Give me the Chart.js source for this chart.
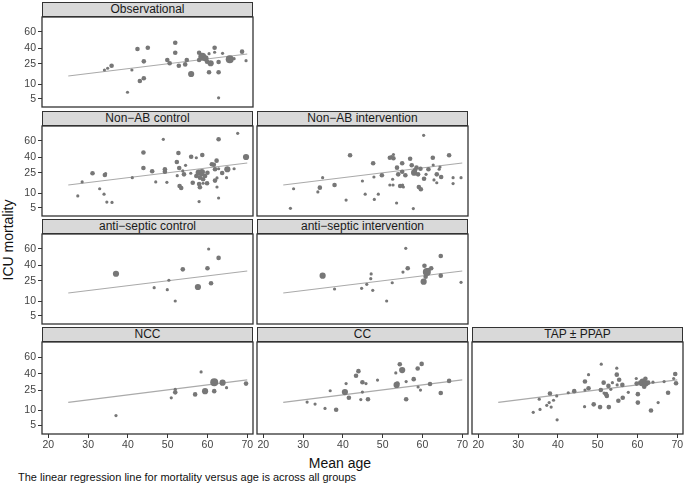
<!DOCTYPE html>
<html>
<head>
<meta charset="utf-8">
<script src="https://cdn.jsdelivr.net/npm/chart.js@4/dist/chart.umd.min.js"></script>
<style>
  body { margin: 0; background: #fff; width: 685px; height: 485px; position: relative; overflow: hidden;
         font-family: "Liberation Sans", Arial, Helvetica, sans-serif; }
  .strip { position: absolute; box-sizing: border-box; height: 15px; width: 211px; background: #d9d9d9;
           border: 1px solid #333; font-size: 12px; line-height: 13px; text-align: center; color: #1a1a1a; }
  .box { position: absolute; }
  #ylab { position: absolute; left: 8px; top: 240px; transform: translate(-50%, -50%) rotate(-90deg);
          font-size: 14px; white-space: nowrap; color: #111; }
  #xlab { position: absolute; left: 340px; top: 463px; transform: translate(-50%, -50%);
          font-size: 14px; line-height: 16px; white-space: nowrap; color: #111; }
  #caption { position: absolute; left: 18px; top: 471px; font-size: 11px; line-height: 13px; color: #111; white-space: nowrap; }
</style>
</head>
<body>
<div id="ylab">ICU mortality</div>
<div id="xlab">Mean age</div>
<div id="caption">The linear regression line for mortality versus age is across all groups</div>
<script>
// axis ticks
const xTicks = [20, 30, 40, 50, 60, 70];
const yTicks = [5, 10, 25, 40, 60];
// where each y tick sits on the (non-linear) mortality axis, 0..90 units
const yTickPos = [8.3, 23, 43, 59, 75];

// regression line across all groups
const lineAge = [25, 70];
const lineMort = [16, 34.4];

// Observational
const obsAge = [34.1,34.9,35.9,39.9,41.0,42.4,43.0,44.0,44.0,45.0,49.9,50.5,51.9,51.9,52.8,54.4,54.8,55.9,57.9,57.9,58.7,59.5,59.9,60.4,60.4,60.8,61.8,61.8,62.8,62.8,62.8,63.8,65.6,66.7,68.7,69.7];
const obsMort = [20.5,21.8,23.7,7.2,20.5,39.1,12.3,14.3,27.5,40.4,28.8,25.7,46.6,35.6,23.7,24.7,28.8,17.5,35.6,28.8,31.8,30.3,27.2,34.7,18.8,25.7,40.4,36.0,26.9,18.8,5.3,35.0,29.4,30.0,36.6,28.1];
const obsSize = [1,1,2,1,1,2,2,2,2,2,2,2,2,2,2,2,2,3,2,2,4,3,2,1,2,3,2,1,2,2,1,1,4,1,2,1];

// Non-AB control
const ncAge = [27.4,28.5,31.1,32.9,34.0,34.2,34.4,34.7,36.0,41.1,43.9,43.9,46.1,47.0,48.9,49.3,49.3,49.8,52.3,52.4,52.7,52.9,53.0,53.4,53.8,54.1,54.5,55.9,55.8,56.3,57.2,57.2,57.8,57.9,57.9,58.1,58.1,58.6,58.6,58.9,59.4,60.0,58.7,58.9,59.9,61.1,61.6,61.9,61.9,62.3,62.4,62.4,62.8,62.8,62.8,63.7,64.8,65.0,66.7,67.6,69.7];
const ncMort = [9.0,18.3,24.8,13.2,9.6,23.5,24.5,6.9,6.8,21.5,45.6,29.7,26.6,18.3,62.1,28.5,26.2,18.0,35.3,23.0,45.0,29.7,15.3,13.8,26.9,24.0,32.2,40.4,24.8,17.7,39.3,22.8,25.3,16.8,7.1,21.5,14.3,25.9,24.0,20.3,22.8,25.3,42.5,17.3,17.3,33.2,32.8,28.5,19.3,36.6,21.3,14.5,62.1,29.0,8.3,25.0,21.5,28.5,29.0,69.6,40.0];
const ncSize = [1,1,2,1,1,2,1,1,1,1,2,2,2,1,1,2,2,1,2,1,2,2,2,2,1,2,1,2,1,2,1,2,3,2,1,2,2,3,2,2,2,2,2,1,2,2,2,2,2,2,1,1,2,1,1,2,1,3,1,1,3];

// Non-AB intervention
const niAge = [26.8,27.6,33.7,34.2,34.9,37.9,40.8,41.8,44.9,45.6,47.6,47.8,47.9,48.9,49.8,51.8,52.2,52.7,52.7,51.8,52.6,52.5,53.5,53.6,53.9,54.4,54.9,55.2,55.7,54.9,55.0,56.9,57.3,57.7,57.9,58.1,58.5,58.9,59.1,59.6,59.5,60.3,60.4,60.9,61.5,62.6,62.7,62.9,63.6,63.6,64.4,64.7,66.7,64.2,67.7,67.7,69.7];
const niMort = [4.8,13.2,10.8,14.0,21.5,16.0,7.6,42.1,19.0,9.6,34.1,22.0,7.8,9.6,23.3,39.3,40.5,43.1,38.8,16.0,16.0,20.3,6.6,30.0,24.0,15.3,26.2,14.5,23.3,34.1,16.0,38.4,32.2,4.7,25.3,27.5,30.0,24.0,14.5,12.8,29.0,67.1,20.7,24.0,28.5,39.3,32.5,19.8,24.0,17.7,30.6,22.0,42.1,28.5,21.5,17.1,21.5];
const niSize = [1,1,1,2,1,2,1,2,1,1,2,1,1,1,2,2,1,1,2,1,1,1,1,2,2,2,2,1,2,2,1,2,2,1,3,2,2,2,2,2,2,1,2,1,2,2,1,1,2,1,1,2,2,1,1,1,1];

// anti-septic control
const acAge = [37.0,46.6,49.9,50.3,51.9,53.8,57.6,60.0,60.3,60.9,62.8];
const acMort = [31.8,20.0,18.5,25.7,10.0,35.9,20.5,36.9,60.0,23.3,48.9];
const acSize = [3,1,1,1,1,2,3,2,1,2,2];

// anti-septic intervention
const aiAge = [34.9,37.9,44.7,46.0,47.0,47.1,47.5,51.0,52.4,55.1,55.8,56.3,60.3,60.5,60.8,61.1,61.5,62.2,64.6,64.6,69.7];
const aiMort = [30.0,19.0,19.5,22.5,27.2,31.6,18.0,10.0,23.7,33.4,60.9,36.9,24.5,39.3,29.0,33.4,35.3,36.9,51.2,30.0,24.0];
const aiSize = [3,1,1,1,1,1,1,1,1,1,1,2,3,2,2,4,2,2,2,2,1];

// NCC
const nccAge = [37.0,50.9,51.9,51.9,56.9,58.4,59.4,61.7,61.7,63.8,64.8,69.7];
const nccMort = [8.3,19.3,25.7,23.3,21.8,42.1,24.2,32.2,24.2,31.8,27.2,30.9];
const nccSize = [1,1,1,2,2,1,3,4,2,3,1,2];

// CC
const ccAge = [31.0,33.0,35.5,36.8,38.3,40.5,40.8,41.5,43.3,43.9,44.5,44.9,44.9,45.8,46.3,48.7,53.3,53.5,53.7,54.3,54.9,55.9,55.9,57.8,58.8,58.9,59.5,59.8,61.9,64.6,66.7];
const ccMort = [16.2,14.7,11.5,24.5,10.5,23.5,30.9,19.3,38.1,43.1,18.0,32.2,23.5,30.9,18.3,34.1,40.9,29.7,30.9,51.6,44.4,18.3,32.8,35.0,46.4,27.8,25.0,52.0,30.6,22.8,33.4];
const ccSize = [1,1,1,1,2,3,1,2,2,2,1,2,1,1,2,1,1,3,2,2,3,2,1,2,2,1,1,2,2,2,2];

// TAP ± PPAP
const tapAge = [33.8,35.3,35.5,37.2,37.8,38.0,38.3,38.9,39.7,39.8,42.6,44.1,46.7,46.8,46.8,47.7,47.7,49.0,50.6,50.8,50.9,51.5,51.6,52.1,52.3,52.7,52.8,53.3,53.7,54.8,54.8,54.9,55.2,55.4,56.2,56.3,57.7,59.7,59.8,60.1,60.1,60.7,61.0,61.3,61.7,62.0,62.1,62.7,63.4,63.9,65.2,66.7,67.7,69.1,69.5,69.7];
const tapMort = [9.4,18.3,10.8,13.8,15.8,22.5,12.5,17.5,20.7,6.9,23.0,24.2,12.8,32.8,25.0,39.1,26.6,14.5,12.5,25.0,51.6,31.8,22.8,22.0,20.7,28.8,12.5,25.7,31.8,46.8,39.1,29.7,17.1,34.4,29.7,19.3,23.3,35.6,30.9,22.0,15.8,31.8,30.6,32.8,28.1,35.3,31.2,31.8,10.0,32.2,15.8,32.8,23.0,35.6,39.7,31.2];
const tapSize = [1,1,1,1,1,2,1,1,1,1,1,2,1,2,1,1,2,2,2,2,1,2,1,2,2,2,2,1,1,1,2,1,2,2,2,2,1,1,2,2,2,2,2,3,2,2,3,2,2,1,1,1,2,1,2,2];

const panels = [
  { title: "Observational",            row: 0, col: 0, age: obsAge, mort: obsMort, size: obsSize },
  { title: "Non\u2212AB control",      row: 1, col: 0, age: ncAge,  mort: ncMort,  size: ncSize },
  { title: "Non\u2212AB intervention", row: 1, col: 1, age: niAge,  mort: niMort,  size: niSize },
  { title: "anti\u2212septic control", row: 2, col: 0, age: acAge,  mort: acMort,  size: acSize },
  { title: "anti\u2212septic intervention", row: 2, col: 1, age: aiAge, mort: aiMort, size: aiSize },
  { title: "NCC",                      row: 3, col: 0, age: nccAge, mort: nccMort, size: nccSize },
  { title: "CC",                       row: 3, col: 1, age: ccAge,  mort: ccMort,  size: ccSize },
  { title: "TAP \u00b1 PPAP",          row: 3, col: 2, age: tapAge, mort: tapMort, size: tapSize }
];

// piecewise mapping of mortality onto the y axis, following the tick marks
function warp(m) {
  const n = yTicks.length;
  if (m <= yTicks[0]) {
    const s = (yTickPos[1] - yTickPos[0]) / (yTicks[1] - yTicks[0]);
    return yTickPos[0] - (yTicks[0] - m) * s;
  }
  for (let i = 1; i < n; i++) {
    if (m <= yTicks[i]) {
      const t = (m - yTicks[i - 1]) / (yTicks[i] - yTicks[i - 1]);
      return yTickPos[i - 1] + t * (yTickPos[i] - yTickPos[i - 1]);
    }
  }
  const s = (yTickPos[n - 1] - yTickPos[n - 2]) / (yTicks[n - 1] - yTicks[n - 2]);
  return yTickPos[n - 1] + (m - yTicks[n - 1]) * s;
}

const radius = [0, 1.6, 2.3, 3.1, 4.0];
const colX = [42, 257, 472];
const rowTop = [2, 110.5, 219, 327];
const panelW = 211, stripH = 15, plotH = 90;
const fontFam = '"Liberation Sans", Arial, Helvetica, sans-serif';
Chart.defaults.font.family = fontFam;

const frame = {
  id: 'frame',
  afterDraw(chart) {
    const a = chart.chartArea, ctx = chart.ctx;
    ctx.save();
    ctx.strokeStyle = '#333';
    ctx.lineWidth = 1.3;
    ctx.strokeRect(a.left, a.top, a.right - a.left, a.bottom - a.top);
    ctx.restore();
  }
};

panels.forEach(p => {
  const strip = document.createElement('div');
  strip.className = 'strip';
  strip.style.left = colX[p.col] + 'px';
  strip.style.top = rowTop[p.row] + 'px';
  strip.textContent = p.title;
  document.body.appendChild(strip);

  const showY = p.col === 0, showX = p.row === 3;
  const padL = showY ? 42 : 2;
  const xH = showX ? 20 : 0;
  const w = panelW + padL + 2;
  const h = plotH + 4 + xH;
  const box = document.createElement('div');
  box.className = 'box';
  box.style.left = (colX[p.col] - padL) + 'px';
  box.style.top = (rowTop[p.row] + stripH - 2) + 'px';
  box.style.width = w + 'px';
  box.style.height = h + 'px';
  const cv = document.createElement('canvas');
  cv.width = w; cv.height = h;
  cv.style.width = w + 'px'; cv.style.height = h + 'px';
  box.appendChild(cv);
  document.body.appendChild(box);

  const pts = p.age.map((a, i) => ({ x: a, y: warp(p.mort[i]) }));
  const rad = p.size.map(s => radius[s]);

  new Chart(cv, {
    type: 'scatter',
    data: {
      datasets: [
        {
          data: pts,
          pointRadius: rad,
          pointBackgroundColor: '#777',
          pointBorderWidth: 0,
          order: 1
        },
        {
          type: 'line',
          data: lineAge.map((a, i) => ({ x: a, y: warp(lineMort[i]) })),
          borderColor: '#aaa',
          borderWidth: 1.2,
          pointRadius: 0,
          fill: false,
          order: 2
        }
      ]
    },
    options: {
      responsive: false,
      animation: false,
      devicePixelRatio: 1,
      layout: { autoPadding: false, padding: { left: showY ? 0 : 2, right: 2, top: 2, bottom: showX ? 0 : 2 } },
      plugins: { legend: { display: false }, tooltip: { enabled: false } },
      scales: {
        x: {
          type: 'linear',
          display: showX,
          min: 18.4, max: 71.45,
          afterBuildTicks: s => { s.ticks = xTicks.map(v => ({ value: v })); },
          afterFit: s => { s.height = xH; s.paddingLeft = 0; s.paddingRight = 0; },
          grid: { drawOnChartArea: false, tickLength: 4, tickColor: '#333', tickWidth: 1 },
          border: { display: false },
          ticks: { color: '#444', font: { size: 10.5 }, padding: 1, maxRotation: 0 }
        },
        y: {
          type: 'linear',
          display: showY,
          min: 0, max: plotH,
          afterBuildTicks: s => { s.ticks = yTicks.map(v => ({ value: warp(v) })); },
          afterFit: s => { s.width = showY ? 42 : 0; s.paddingTop = 0; s.paddingBottom = 0; },
          grid: { drawOnChartArea: false, tickLength: 4, tickColor: '#333', tickWidth: 1 },
          border: { display: false },
          ticks: { color: '#444', font: { size: 10.5 }, padding: 2, callback: (v, i) => yTicks[i] }
        }
      }
    },
    plugins: [frame]
  });
});
</script>
</body>
</html>
